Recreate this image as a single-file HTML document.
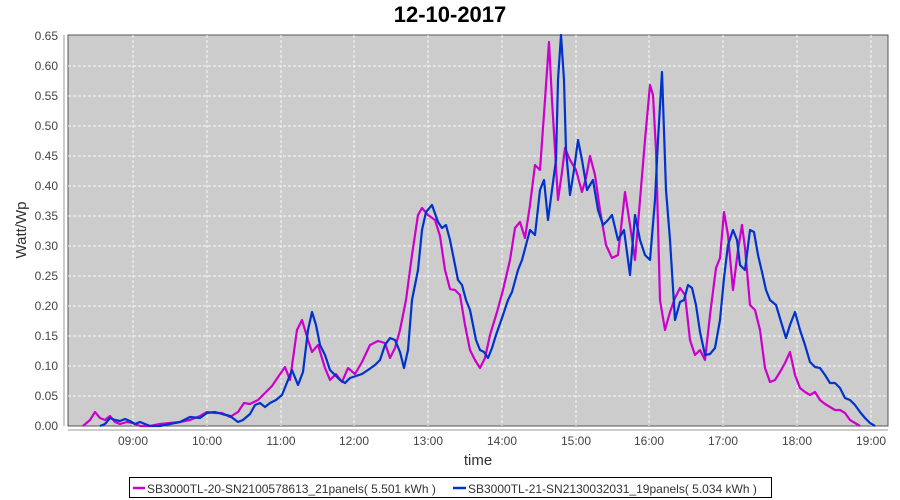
<!DOCTYPE html>
<html><head><meta charset="utf-8"><style>
body{margin:0;background:#fff;}
svg{display:block;font-family:"Liberation Sans",sans-serif;}
</style></head><body>
<svg width="900" height="500" xmlns="http://www.w3.org/2000/svg">
<rect width="900" height="500" fill="#fff"/>
<text x="450" y="22" text-anchor="middle" font-size="22" font-weight="bold" fill="#000">12-10-2017</text>
<rect x="68" y="35" width="820" height="391" fill="#cccccc" stroke="#555" stroke-width="1"/>
<g stroke="#fff" stroke-width="1" stroke-dasharray="3,2" opacity="0.85">
<line x1="68" x2="888" y1="396" y2="396"/><line x1="68" x2="888" y1="366" y2="366"/>
<line x1="68" x2="888" y1="336" y2="336"/><line x1="68" x2="888" y1="306" y2="306"/>
<line x1="68" x2="888" y1="276" y2="276"/><line x1="68" x2="888" y1="246" y2="246"/>
<line x1="68" x2="888" y1="216" y2="216"/><line x1="68" x2="888" y1="186" y2="186"/>
<line x1="68" x2="888" y1="156" y2="156"/><line x1="68" x2="888" y1="126" y2="126"/>
<line x1="68" x2="888" y1="96" y2="96"/><line x1="68" x2="888" y1="66" y2="66"/>
<line y1="35" y2="426" x1="133" x2="133"/><line y1="35" y2="426" x1="207" x2="207"/>
<line y1="35" y2="426" x1="281" x2="281"/><line y1="35" y2="426" x1="354" x2="354"/>
<line y1="35" y2="426" x1="428" x2="428"/><line y1="35" y2="426" x1="502" x2="502"/>
<line y1="35" y2="426" x1="576" x2="576"/><line y1="35" y2="426" x1="649" x2="649"/>
<line y1="35" y2="426" x1="723" x2="723"/><line y1="35" y2="426" x1="797" x2="797"/>
<line y1="35" y2="426" x1="871" x2="871"/>
</g>
<g stroke="#999" stroke-width="1">
<line x1="64" y1="35" x2="64" y2="426"/>
<line x1="68" y1="430" x2="888" y2="430"/>
</g>
<g font-size="12" fill="#444" text-anchor="end">
<text x="58" y="430">0.00</text><text x="58" y="400">0.05</text><text x="58" y="370">0.10</text>
<text x="58" y="340">0.15</text><text x="58" y="310">0.20</text><text x="58" y="280">0.25</text>
<text x="58" y="250">0.30</text><text x="58" y="220">0.35</text><text x="58" y="190">0.40</text>
<text x="58" y="160">0.45</text><text x="58" y="130">0.50</text><text x="58" y="100">0.55</text>
<text x="58" y="70">0.60</text><text x="58" y="40">0.65</text>
</g>
<g font-size="12" fill="#444" text-anchor="middle">
<text x="133" y="445">09:00</text><text x="207" y="445">10:00</text><text x="281" y="445">11:00</text>
<text x="354" y="445">12:00</text><text x="428" y="445">13:00</text><text x="502" y="445">14:00</text>
<text x="576" y="445">15:00</text><text x="649" y="445">16:00</text><text x="723" y="445">17:00</text>
<text x="797" y="445">18:00</text><text x="871" y="445">19:00</text>
</g>
<text x="478" y="465" text-anchor="middle" font-size="15" fill="#333">time</text>
<text transform="translate(26,230) rotate(-90)" text-anchor="middle" font-size="15" fill="#333">Watt/Wp</text>
<polyline fill="none" stroke="#cc00cc" stroke-width="2.2" stroke-linejoin="round" points="83,426 90,420 95,412 100,418 105,420 110,416 115,422 120,424 127,422 133,423 140,426 150,426 160,424 170,423 180,422 190,420 200,416 207,412 215,413 222,413 230,417 238,412 244,403 250,404 258,400 265,393 272,386 276,380 285,367 290,380 297,330 302,320 308,340 312,352 318,345 325,368 330,380 336,374 342,382 348,368 355,374 362,362 370,345 378,341 385,343 390,358 395,348 400,330 406,300 412,255 418,215 422,208 428,215 435,220 440,236 445,270 450,289 455,290 460,295 465,325 470,350 475,360 480,368 485,358 490,335 497,312 503,290 510,260 515,228 520,222 525,238 530,205 535,165 540,170 545,100 549,42 552,100 558,200 562,172 565,148 570,160 576,170 582,192 586,178 590,156 595,175 600,210 606,245 612,258 618,255 625,192 630,225 635,260 640,200 645,140 650,85 653,95 656,150 660,300 665,330 670,312 675,298 680,288 685,295 690,340 695,355 700,350 705,360 710,315 716,268 720,258 724,212 728,235 733,290 738,250 742,225 745,248 750,305 755,310 760,330 765,368 770,382 775,380 780,372 785,363 790,352 795,375 800,388 805,392 810,395 815,392 820,400 825,404 830,407 835,410 840,410 845,413 850,420 855,423 860,426"/>
<polyline fill="none" stroke="#0033cc" stroke-width="2.2" stroke-linejoin="round" points="100,426 105,424 110,418 115,420 120,421 125,419 130,421 135,424 140,422 145,424 150,426 160,426 170,424 180,422 190,417 200,418 207,413 215,412 222,414 230,416 238,422 243,420 250,414 255,405 260,403 265,407 270,403 276,400 282,395 286,385 292,370 298,385 303,372 308,330 312,312 316,325 320,345 325,355 330,370 335,375 340,380 345,383 350,378 356,376 362,374 368,370 375,365 380,360 385,345 390,338 395,340 400,352 404,368 408,350 412,300 418,270 422,230 426,212 432,205 438,222 442,228 446,225 450,240 454,260 458,280 462,285 466,300 470,310 476,340 480,350 484,352 488,358 492,348 496,335 502,318 508,300 512,292 518,270 522,260 526,245 530,230 535,235 540,190 544,180 546,200 548,220 552,190 556,160 558,80 561,35 564,80 566,150 570,195 574,170 578,140 582,160 587,190 593,180 598,210 603,225 608,220 612,215 618,240 624,230 630,275 635,215 640,240 645,255 650,260 655,200 658,140 662,72 666,190 670,240 675,320 680,302 684,300 688,285 692,288 696,305 700,332 705,355 710,354 715,348 720,320 724,278 728,245 733,230 737,240 740,265 745,270 750,230 754,232 758,255 762,272 766,290 770,300 776,305 782,325 786,338 790,325 795,312 800,330 805,345 810,362 815,367 820,368 825,375 830,383 835,383 840,388 845,398 850,400 855,405 860,412 865,418 870,423 875,426"/>
<rect x="129.5" y="477.5" width="642" height="20" fill="#fff" stroke="#000" stroke-width="1"/>
<line x1="133" y1="488" x2="145" y2="488" stroke="#cc00cc" stroke-width="2.5"/>
<text x="147" y="493" font-size="12" fill="#333">SB3000TL-20-SN2100578613_21panels( 5.501 kWh )</text>
<line x1="453" y1="488" x2="466" y2="488" stroke="#0033cc" stroke-width="2.5"/>
<text x="468" y="493" font-size="12" fill="#333">SB3000TL-21-SN2130032031_19panels( 5.034 kWh )</text>
</svg>
</body></html>
